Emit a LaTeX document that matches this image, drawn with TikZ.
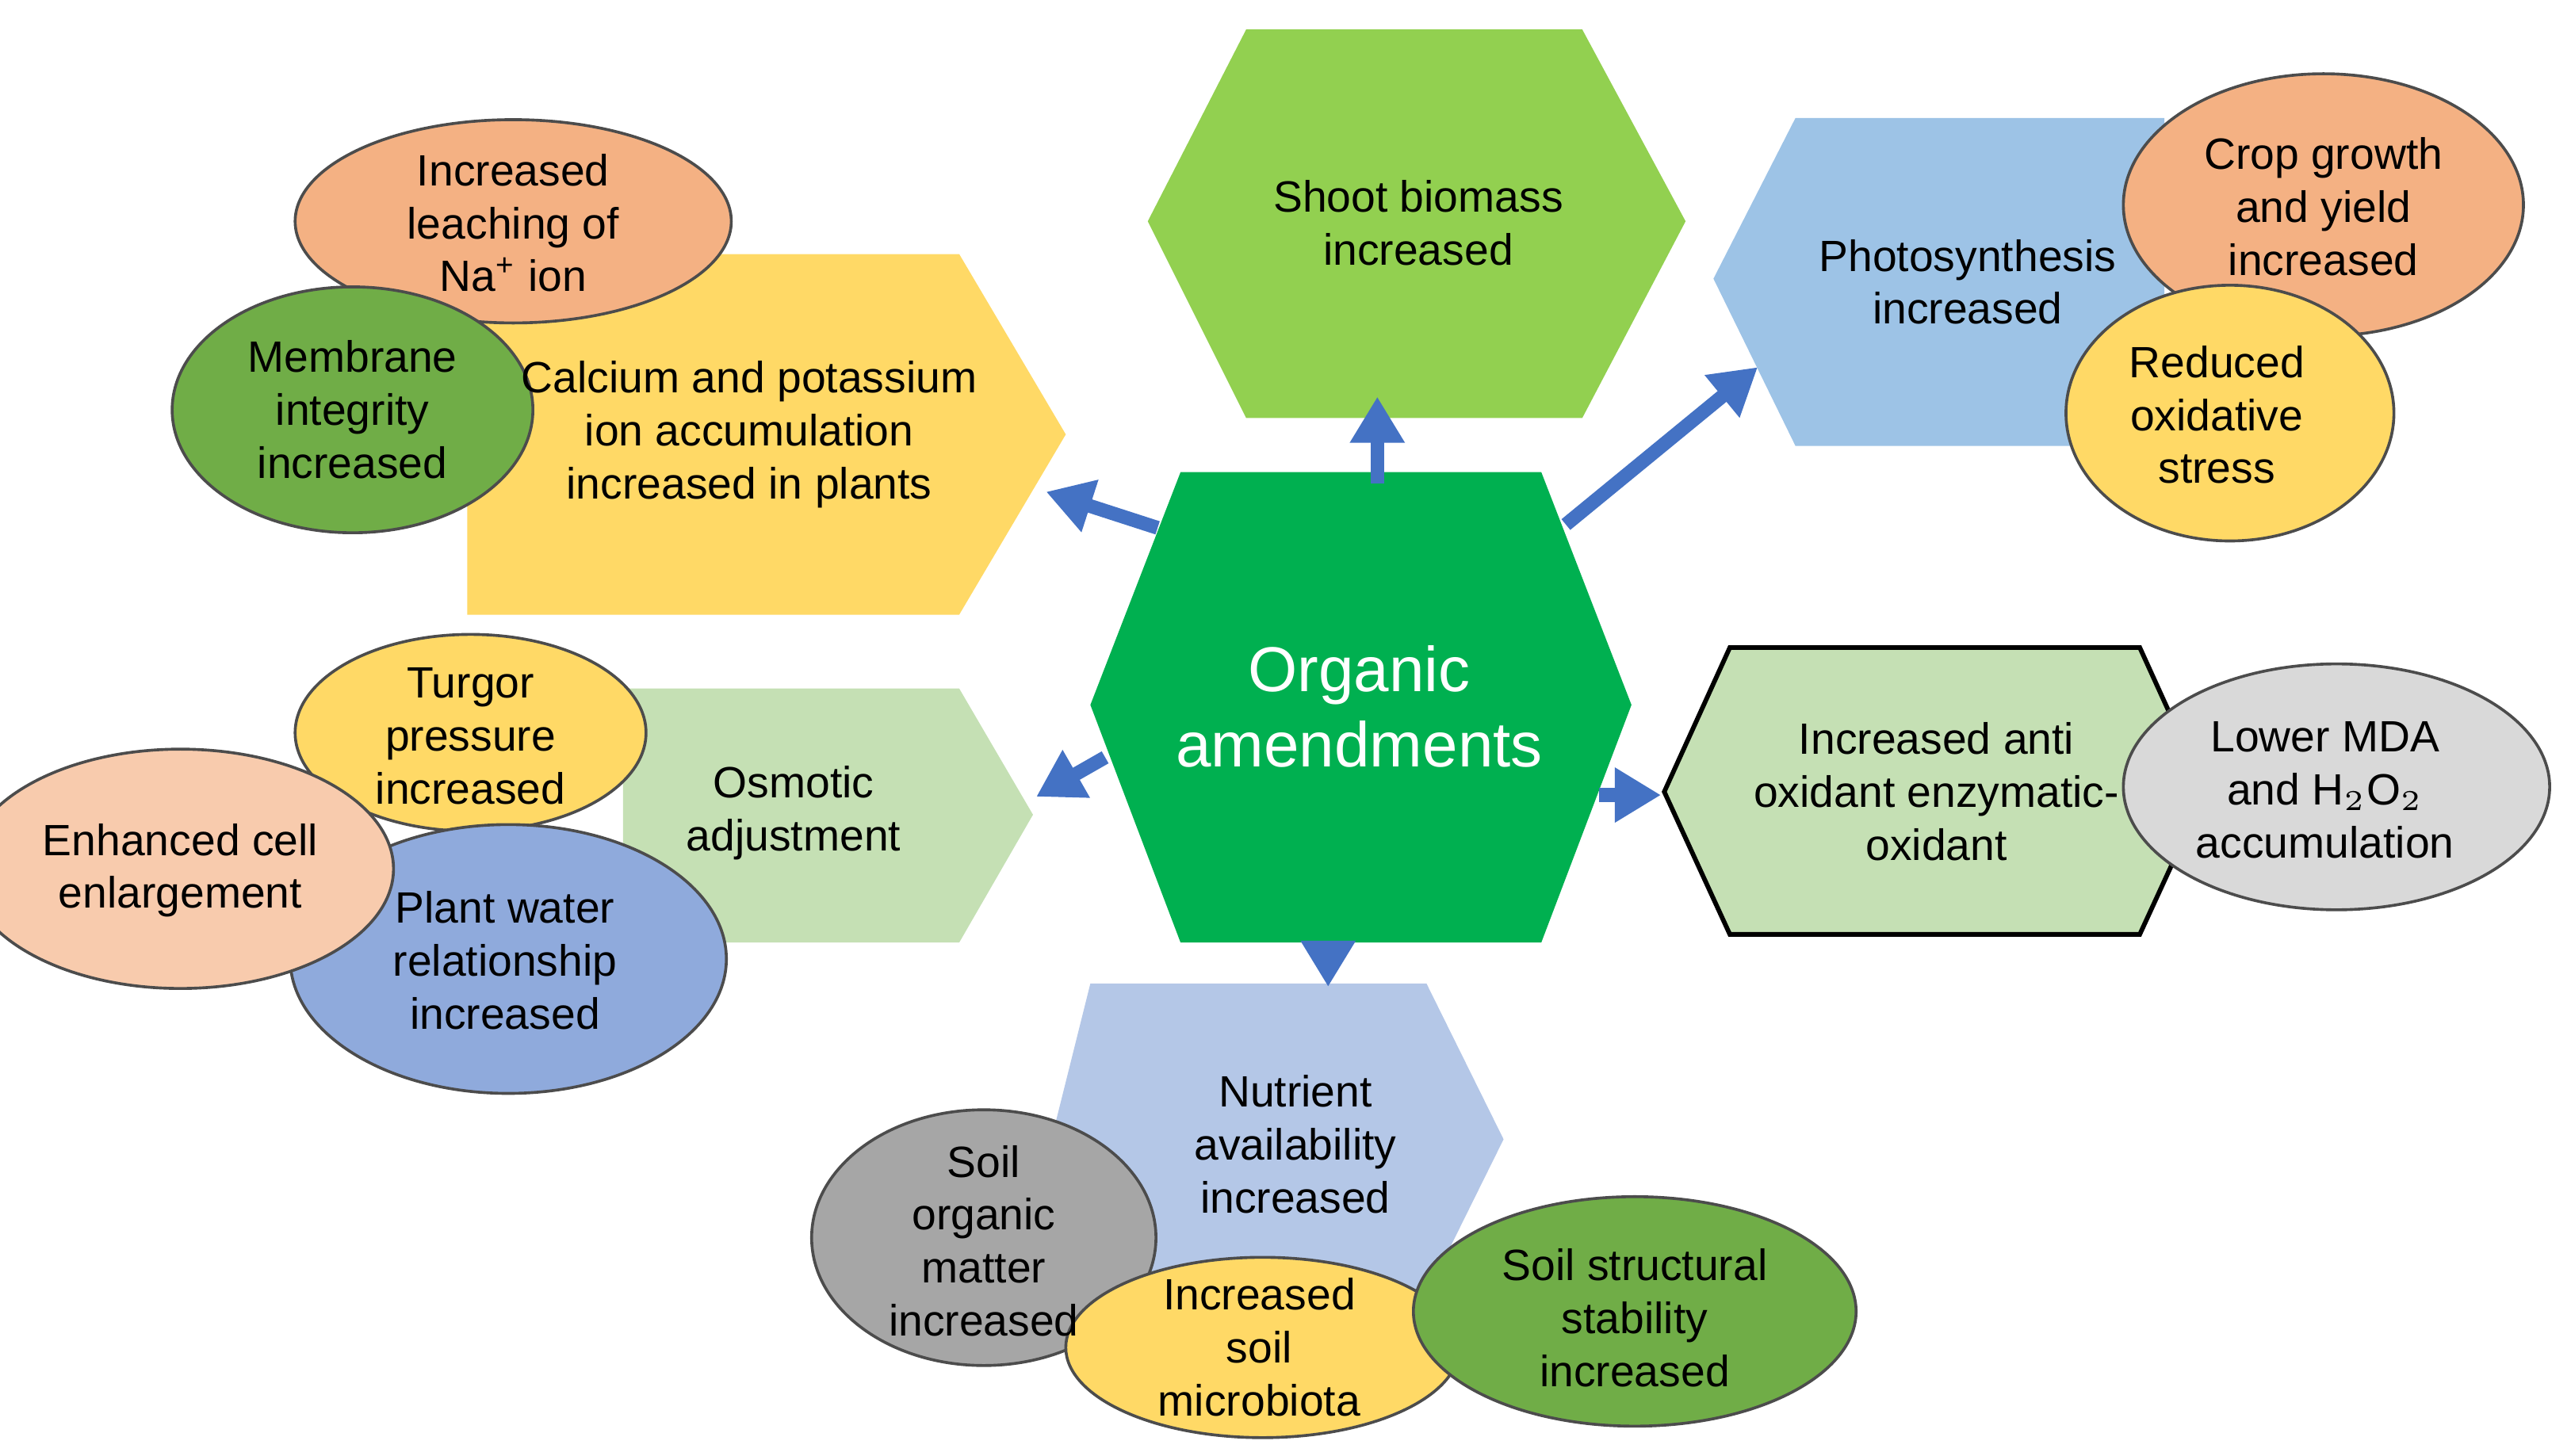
\documentclass[tikz,border=0pt]{standalone}
\usepackage{fontspec}
\setmainfont{Liberation Sans}
\begin{document}
\begin{tikzpicture}[x=0.01cm,y=-0.01cm,
 txt/.style={align=center,font=\fontsize{7.6}{9.2}\selectfont},
 ell/.style={draw=black!70,line width=0.5pt},
 arr/.style={draw=blue!55!cyan!60!black,line width=2.2pt,-{Latex[length=7pt,width=8pt]}}]
\usetikzlibrary{arrows.meta}
\definecolor{arrc}{HTML}{4472C4}
\tikzset{arr/.style={draw=arrc,line width=2.4pt,-{Triangle[length=8pt,width=9pt]}}}
\useasboundingbox (0,0) rectangle (1568,888);
% hexagons
\fill[green!55!black!0,fill={rgb,255:red,146;green,208;blue,80}] (700,135)--(760,18)--(965,18)--(1028,135)--(965,255)--(760,255)--cycle;
\fill[fill={rgb,255:red,157;green,195;blue,230}] (1045,170)--(1095,72)--(1320,72)--(1320,272)--(1095,272)--cycle;
\fill[fill={rgb,255:red,255;green,217;blue,102}] (285,155)--(585,155)--(650,265)--(585,375)--(285,375)--cycle;
\fill[fill={rgb,255:red,197;green,224;blue,180}] (380,420)--(585,420)--(630,497)--(585,575)--(380,575)--cycle;
\filldraw[fill={rgb,255:red,197;green,224;blue,180},draw=black,line width=0.8pt] (1015,483)--(1055,395)--(1305,395)--(1345,483)--(1305,570)--(1055,570)--cycle;
\fill[fill={rgb,255:red,180;green,199;blue,231}] (640,700)--(665,600)--(870,600)--(917,695)--(870,790)--(665,790)--cycle;
\fill[fill={rgb,255:red,0;green,176;blue,80}] (665,430)--(720,288)--(940,288)--(995,430)--(940,575)--(720,575)--cycle;
% ellipses
\filldraw[ell,fill={rgb,255:red,244;green,177;blue,131}] (313,135) ellipse [x radius=133,y radius=62];
\filldraw[ell,fill={rgb,255:red,112;green,173;blue,71}] (215,250) ellipse [x radius=110,y radius=75];
\filldraw[ell,fill={rgb,255:red,244;green,177;blue,131}] (1417,125) ellipse [x radius=122,y radius=80];
\filldraw[ell,fill={rgb,255:red,255;green,217;blue,102}] (1360,252) ellipse [x radius=100,y radius=78];
\filldraw[ell,fill={rgb,255:red,255;green,217;blue,102}] (287,447) ellipse [x radius=107,y radius=60];
\filldraw[ell,fill={rgb,255:red,143;green,170;blue,220}] (310,585) ellipse [x radius=133,y radius=82];
\filldraw[ell,fill={rgb,255:red,248;green,203;blue,173}] (110,530) ellipse [x radius=130,y radius=73];
\filldraw[ell,fill={rgb,255:red,217;green,217;blue,217}] (1425,480) ellipse [x radius=130,y radius=75];
\filldraw[ell,fill={rgb,255:red,166;green,166;blue,166}] (600,755) ellipse [x radius=105,y radius=78];
\filldraw[ell,fill={rgb,255:red,255;green,217;blue,102}] (770,822) ellipse [x radius=120,y radius=55];
\filldraw[ell,fill={rgb,255:red,112;green,173;blue,71}] (997,800) ellipse [x radius=135,y radius=70];
% texts
\node[txt] (shoot) at (865,136) {Shoot biomass\\increased};
\node[txt] (photo) at (1200,172) {Photosynthesis\\increased};
\node[txt] (calc) at (457,265) {Calcium and potassium\\ion accumulation\\increased in plants};
\node[txt] (osm) at (484,496) {Osmotic\\adjustment};
\node[txt] (anti) at (1181,483) {Increased anti\\oxidant enzymatic-\\oxidant};
\node[txt] (nut) at (790,698) {Nutrient\\availability\\increased};
\node[txt,text=white,font=\fontsize{11}{13}\selectfont] (org) at (829,431) {Organic\\amendments};
\node[txt] (leach) at (313,136) {Increased\\leaching of\\Na\textsuperscript{+} ion};
\node[txt] (mem) at (215,250) {Membrane\\integrity\\increased};
\node[txt] (crop) at (1417,126) {Crop growth\\and yield\\increased};
\node[txt] (red) at (1352,253) {Reduced\\oxidative\\stress};
\node[txt] (turg) at (287,449) {Turgor\\pressure\\increased};
\node[txt] (cell) at (110,531) {Enhanced cell\\enlargement};
\node[txt] (water) at (308,586) {Plant water\\relationship\\increased};
\node[txt] (mda) at (1418,482) {Lower MDA\\and H$_2$O$_2$\\accumulation};
\node[txt] (som) at (600,757) {Soil\\organic\\matter\\increased};
\node[txt] (mic) at (768,822) {Increased\\soil\\microbiota};
\node[txt] (str) at (997,804) {Soil structural\\stability\\increased};
% arrows
\coordinate (a1) at (840,295); \coordinate (b1) at (840,242);
\coordinate (a2) at (706,322); \coordinate (b2) at (638,300);
\coordinate (a3) at (955,320); \coordinate (b3) at (1072,224);
\coordinate (a4) at (674,462); \coordinate (b4) at (632,486);
\coordinate (a5) at (975,485); \coordinate (b5) at (1013,485);
\coordinate (a6) at (810,580); \coordinate (b6) at (810,602);
\draw[arr] (a1)--(b1); \draw[arr] (a2)--(b2); \draw[arr] (a3)--(b3);
\draw[arr] (a4)--(b4); \draw[arr] (a5)--(b5); \draw[arr] (a6)--(b6);
\end{tikzpicture}
\end{document}
